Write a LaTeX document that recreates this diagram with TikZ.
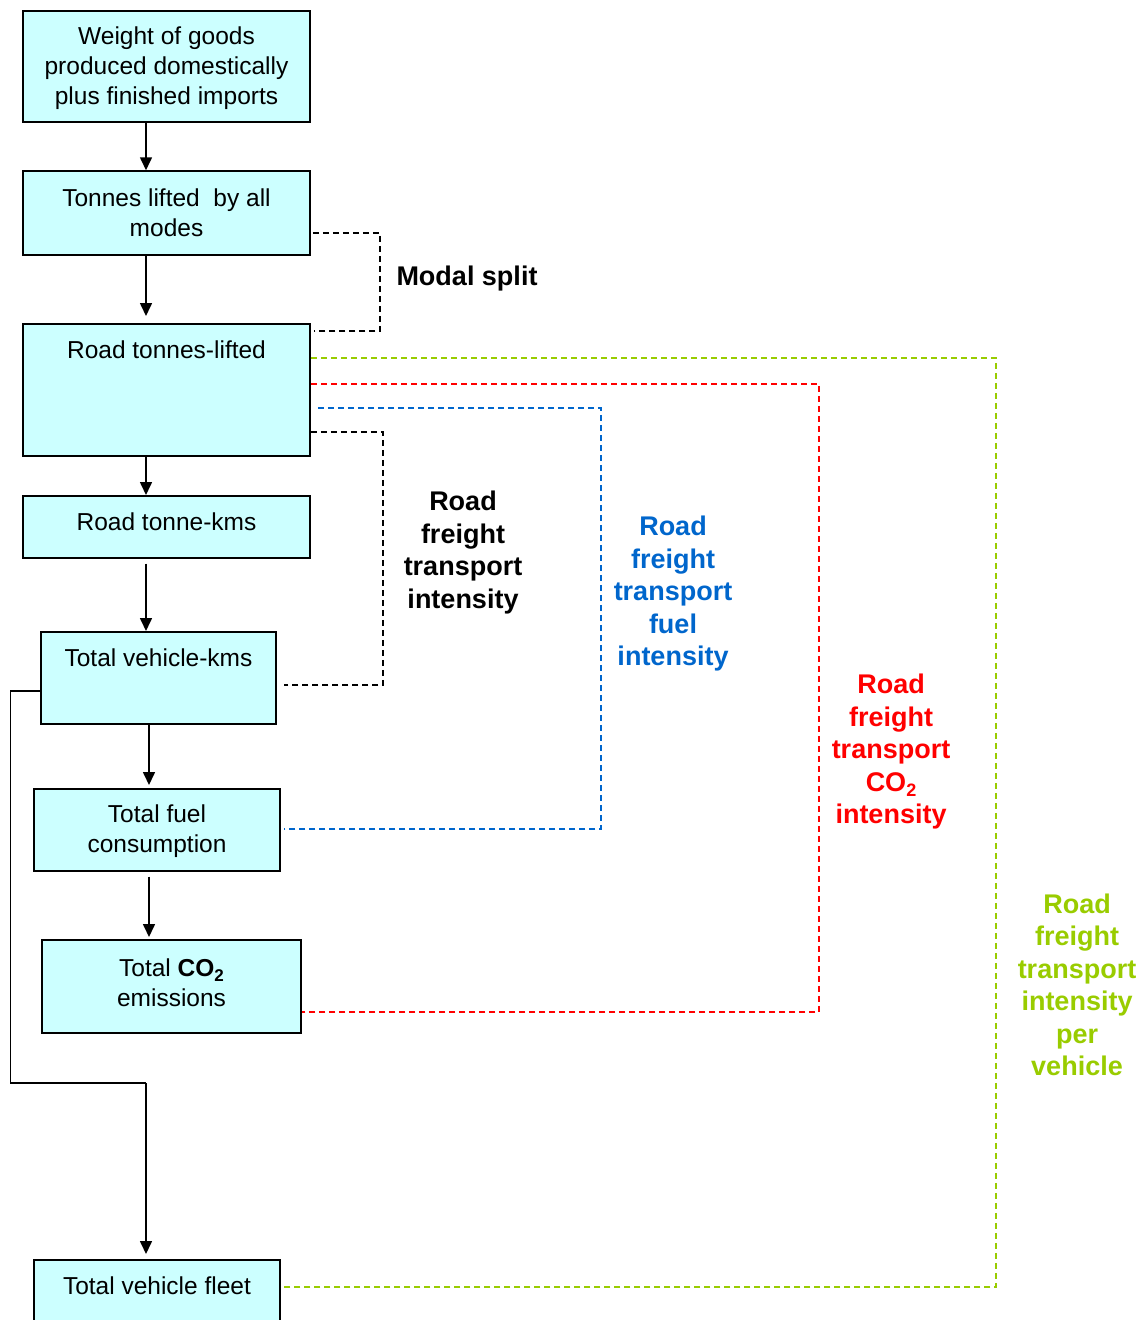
\documentclass[tikz,border=0pt]{standalone}
\usepackage{fontspec}
\setmainfont{Liberation Sans}
\usetikzlibrary{arrows.meta}
\definecolor{boxfill}{HTML}{CCFFFF}
\definecolor{myblue}{HTML}{0066CC}
\definecolor{myred}{HTML}{FF0000}
\definecolor{mygreen}{HTML}{99CC00}
\newcommand{\cotwo}[1]{CO\raisebox{-0.35ex}{\fontsize{#1}{#1}\selectfont 2}}
\begin{document}
\begin{tikzpicture}[x=1pt,y=-1pt,
  box/.style={draw=black, line width=1.5pt, fill=boxfill, inner sep=0pt, align=center,
    font=\fontsize{24.5}{30}\selectfont},
  arr/.style={line width=1.6pt, -{Triangle[length=13pt,width=12pt]}},
  conn/.style={line width=1.5pt},
  dsh/.style={line width=1.3pt, dash pattern=on 6pt off 4pt},
  lbl/.style={align=center, inner sep=0pt, font=\bfseries\fontsize{27}{32.5}\selectfont}]
\useasboundingbox (0,0) rectangle (1144,1320);

% boxes (text height = distance from top edge to the last baseline)
\node[box, minimum width=287pt, text height=94pt, text depth=17pt, anchor=north] (b1) at (166.5,10)
  {Weight of goods\\produced domestically\\plus finished imports};
\node[box, minimum width=287pt, minimum height=84pt] (b2) at (166.5,213)
  {Tonnes lifted~ by all\\modes};
\node[box, minimum width=287pt, text height=35pt, text depth=97pt, anchor=north] (b3) at (166.5,323)
  {Road tonnes-lifted};
\node[box, minimum width=287pt, text height=35pt, text depth=27pt, anchor=north] (b4) at (166.5,495)
  {Road tonne-kms};
\node[box, minimum width=235pt, text height=35pt, text depth=57pt, anchor=north] (b5) at (158.5,631)
  {Total vehicle-kms};
\node[box, minimum width=246pt, text height=64pt, text depth=18pt, anchor=north] (b6) at (157,788)
  {Total fuel\\consumption};
\node[box, minimum width=259pt, text height=67pt, text depth=26pt, anchor=north] (b7) at (171.5,939)
  {Total \textbf{\cotwo{17}}\\emissions};
\node[box, minimum width=246pt, text height=35pt, text depth=80pt, anchor=north] (b8) at (157,1259)
  {Total vehicle fleet};

% main arrows
\draw[arr] (b1.south -| 146,0) -- (b2.north -| 146,0);
\draw[arr, shorten >=7pt] (b2.south -| 146,0) -- (b3.north -| 146,0);
\draw[arr] (b3.south -| 146,0) -- (b4.north -| 146,0);
\draw[arr, shorten <=5pt] (b4.south -| 146,0) -- (b5.north -| 146,0);
\draw[arr, shorten >=3pt] (b5.south -| 149,0) -- (b6.north -| 149,0);
\draw[arr, shorten <=5pt, shorten >=2pt] (b6.south -| 149,0) -- (b7.north -| 149,0);

% fleet connector
\coordinate (fl) at (146,1083);
\draw[conn] ([yshift=-13pt]b5.west) -- ++(-30,0) |- (fl);
\draw[arr, shorten >=5pt] (fl) -- (b8.north -| fl);

% dashed connectors
\draw[dsh, black, shorten <=2pt, shorten >=3pt] (b2.east |- 0,233) -- (380,233) -- (380,331) -- (b3.east |- 0,331);
\draw[dsh, black, shorten >=7pt] (b3.east |- 0,432) -- (383,432) -- (383,685) -- (b5.east |- 0,685);
\draw[dsh, myblue, shorten <=7pt, shorten >=3pt] (b3.east |- 0,408) -- (601,408) -- (601,829) -- (b6.east |- 0,829);
\draw[dsh, myred] (b3.east |- 0,384) -- (819,384) -- (819,1012) -- (b7.east |- 0,1012);
\draw[dsh, mygreen] (b3.east |- 0,358) -- (996,358) -- (996,1287) -- (b8.east |- 0,1287);

% labels
\node[lbl] (ms) at (467,279) {Modal split};
\node[lbl] (li) at (463,552.5) {Road\\freight\\transport\\intensity};
\node[lbl, text=myblue] (lf) at (673,594) {Road\\freight\\transport\\fuel\\intensity};
\node[lbl, text=myred] (lc) at (891,752) {Road\\freight\\transport\\\cotwo{18}\\intensity};
\node[lbl, text=mygreen] (lv) at (1077,985) {Road\\freight\\transport\\intensity\\per\\vehicle};
\end{tikzpicture}
\end{document}
